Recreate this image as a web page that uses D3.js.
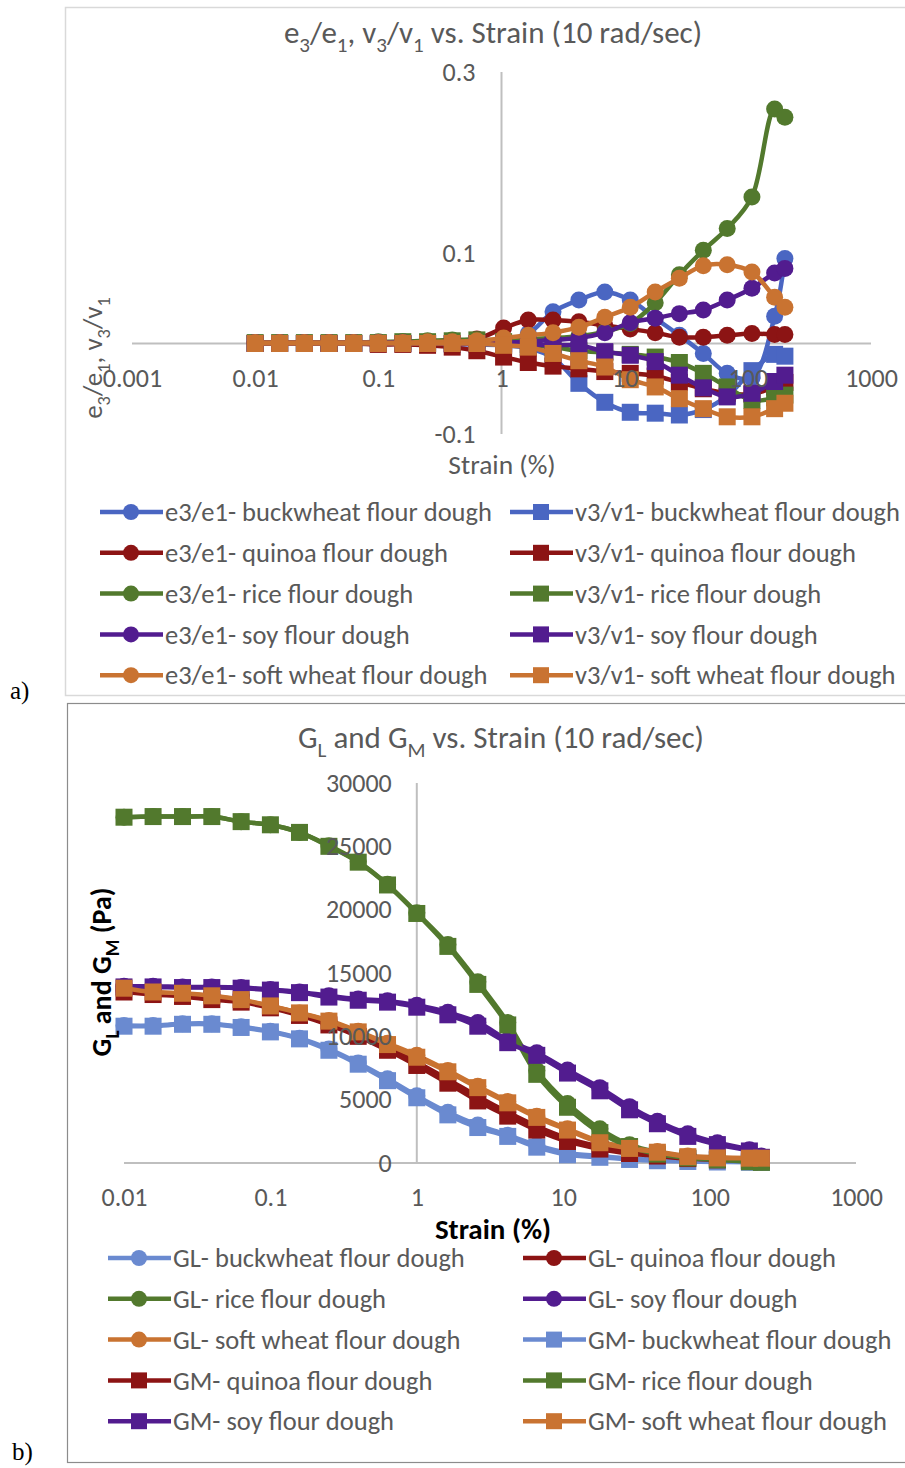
<!DOCTYPE html>
<html>
<head>
<meta charset="UTF-8">
<script src="https://d3js.org/d3.v7.min.js"></script>
<style>
  body { margin: 0; background: #fff; }
  text { font-family: Carlito, Lato, "Open Sans", sans-serif; }
</style>
</head>
<body>
<svg width="905" height="1468"></svg>
<script>
  // ---- data: chart a) ----
  const strainA = [0.01, 0.0158, 0.0251, 0.0398, 0.0631, 0.1, 0.158, 0.251, 0.398, 0.631,
    1.04, 1.65, 2.62, 4.25, 6.9, 11.1, 17.7, 27.8, 43.5, 68, 108, 165, 200];
  const e3Buckwheat = [0.001, 0.001, 0.001, 0.001, 0.001, 0.001, 0.002, 0.002, 0.003, 0.003, 0.004, 0.011, 0.035, 0.048, 0.057, 0.048, 0.028, 0.009, -0.011, -0.033, -0.038, 0.030, 0.094];
  const v3Buckwheat = [0, 0, 0, 0, 0, 0, 0, 0, -0.001, -0.001, -0.002, -0.005, -0.016, -0.044, -0.065, -0.076, -0.077, -0.079, -0.073, -0.058, -0.030, -0.012, -0.014];
  const e3Quinoa = [0.001, 0.001, 0.001, 0.001, 0.001, 0.001, 0.001, 0.002, 0.003, 0.005, 0.017, 0.026, 0.026, 0.024, 0.020, 0.016, 0.012, 0.007, 0.007, 0.009, 0.011, 0.010, 0.010];
  const v3Quinoa = [0, 0, 0, 0, 0, -0.001, -0.001, -0.002, -0.004, -0.008, -0.015, -0.021, -0.025, -0.028, -0.031, -0.033, -0.036, -0.043, -0.050, -0.055, -0.056, -0.048, -0.043];
  const e3Rice = [0.001, 0.001, 0.001, 0.001, 0.001, 0.002, 0.002, 0.003, 0.004, 0.004, 0.004, 0.005, 0.006, 0.008, 0.013, 0.022, 0.045, 0.076, 0.103, 0.127, 0.162, 0.259, 0.250];
  const v3Rice = [0.001, 0.001, 0.001, 0.001, 0.001, 0.001, 0.002, 0.002, 0.003, 0.004, 0.002, -0.002, -0.004, -0.008, -0.010, -0.012, -0.015, -0.021, -0.033, -0.048, -0.063, -0.060, -0.057];
  const e3Soy = [0.001, 0.001, 0.001, 0.001, 0.001, 0.001, 0.001, 0.001, 0.001, 0.001, 0.001, 0.002, 0.004, 0.006, 0.012, 0.023, 0.028, 0.033, 0.037, 0.048, 0.061, 0.078, 0.083];
  const v3Soy = [0, 0, 0, 0, 0, 0, 0, 0, 0, 0, 0, -0.001, -0.002, -0.002, -0.009, -0.013, -0.020, -0.035, -0.049, -0.059, -0.055, -0.042, -0.035];
  const e3SoftWheat = [0.001, 0.001, 0.001, 0.001, 0.001, 0.001, 0.001, 0.002, 0.002, 0.003, 0.006, 0.009, 0.012, 0.018, 0.029, 0.040, 0.057, 0.072, 0.086, 0.087, 0.079, 0.051, 0.040];
  const v3SoftWheat = [0, 0, 0, 0, 0, 0, 0, 0, 0, 0, -0.002, -0.004, -0.011, -0.019, -0.026, -0.040, -0.048, -0.061, -0.072, -0.081, -0.081, -0.072, -0.066];
  const ticksXA = [0.001, 0.01, 0.1, 1, 10, 100, 1000];
  const ticksYA = [-0.1, 0.1, 0.3];

  // ---- data: chart b) ----
  const strainB = [0.01, 0.0158, 0.0251, 0.0398, 0.0631, 0.1, 0.158, 0.251, 0.398, 0.631,
    1.0, 1.63, 2.61, 4.18, 6.6, 10.7, 17.8, 28.4, 44, 71, 113, 187, 226];
  const glBuckwheat = [10850, 10850, 11000, 11000, 10750, 10400, 9850, 9000, 7900, 6650, 5300, 4000, 3000, 2200, 1400, 800, 550, 350, 250, 170, 120, 90, 80];
  const glQuinoa = [13600, 13400, 13250, 13050, 12800, 12350, 11800, 11050, 10200, 9100, 7950, 6600, 5250, 4000, 2900, 1950, 1300, 900, 650, 450, 330, 280, 250];
  const glRice = [27300, 27350, 27350, 27350, 26950, 26700, 26100, 25050, 23800, 22000, 19750, 17250, 14300, 11100, 7300, 4700, 2700, 1450, 850, 500, 300, 150, 100];
  const glSoy = [13950, 13950, 13900, 13900, 13850, 13700, 13500, 13200, 12950, 12800, 12450, 11900, 11100, 9700, 8700, 7350, 5950, 4450, 3300, 2300, 1600, 1050, 550];
  const glSoftWheat = [13750, 13500, 13350, 13200, 12850, 12400, 11850, 11250, 10400, 9450, 8500, 7300, 6050, 4850, 3700, 2700, 1700, 1200, 900, 550, 450, 400, 400];
  const gmBuckwheat = [10800, 10800, 10950, 10950, 10700, 10350, 9800, 8900, 7800, 6500, 5150, 3800, 2800, 2100, 1250, 650, 450, 280, 180, 120, 80, 60, 50];
  const gmQuinoa = [13500, 13300, 13150, 12900, 12700, 12250, 11650, 10900, 10000, 8900, 7700, 6300, 4900, 3700, 2600, 1700, 1100, 750, 550, 350, 250, 200, 200];
  const gmRice = [27300, 27350, 27350, 27350, 26950, 26700, 26100, 25000, 23750, 21950, 19700, 17100, 14100, 10900, 7000, 4400, 2400, 1300, 700, 400, 250, 100, 50];
  const gmSoy = [13900, 13900, 13850, 13850, 13800, 13650, 13450, 13100, 12850, 12700, 12300, 11700, 10800, 9500, 8500, 7100, 5700, 4200, 3100, 2100, 1450, 950, 450];
  const gmSoftWheat = [13800, 13500, 13400, 13200, 12900, 12400, 11850, 11200, 10350, 9350, 8350, 7200, 5950, 4750, 3600, 2600, 1600, 1150, 850, 500, 400, 380, 380];
  const ticksXB = [0.01, 0.1, 1, 10, 100, 1000];
  const ticksYB = [0, 5000, 10000, 15000, 20000, 25000, 30000];

  const flours = ["buckwheat flour dough", "quinoa flour dough", "rice flour dough", "soy flour dough", "soft wheat flour dough"];
  const coloursA = ["#4a66c2", "#8c1414", "#52792d", "#521c8f", "#c97331"];
  const coloursB = ["#6a8ad0", "#8c1414", "#52792d", "#521c8f", "#c97331"];

  const grey = "#595959";
  let svg = d3.select("svg");

  // text with subscripts: parts = [[text, isSub], ...]
  function richText(g, parts, size) {
    let dyNow = 0;
    parts.forEach(p => {
      let t = g.append("tspan").text(p[0]);
      if (p[1]) {
        t.attr("font-size", size * 0.68).attr("dy", size * 0.3 - dyNow);
        dyNow = size * 0.3;
      } else {
        t.attr("dy", -dyNow);
        dyNow = 0;
      }
    });
  }

  function drawSeries(g, sers, x, y, curve) {
    let line = d3.line().x(d => x(d[0])).y(d => y(d[1])).curve(curve);
    sers.forEach(s => {
      let pts = s.strain.map((v, i) => [v, s.values[i]]);
      g.append("path").attr("d", line(pts))
        .attr("fill", "none").attr("stroke", s.colour).attr("stroke-width", 4.5)
        .attr("stroke-linejoin", "round");
      if (s.shape == "circle") {
        g.selectAll(null).data(pts).enter().append("circle")
          .attr("cx", d => x(d[0])).attr("cy", d => y(d[1])).attr("r", 8.5)
          .attr("fill", s.colour);
      } else {
        g.selectAll(null).data(pts).enter().append("rect")
          .attr("x", d => x(d[0]) - 8.5).attr("y", d => y(d[1]) - 8.5)
          .attr("width", 17).attr("height", 17).attr("fill", s.colour);
      }
    });
  }

  function drawLegend(g, sers, cols, rowY, rowH) {
    sers.forEach((s, i) => {
      let cx = cols[i % 2], cy = rowY + Math.floor(i / 2) * rowH;
      g.append("line").attr("x1", cx).attr("x2", cx + 63).attr("y1", cy).attr("y2", cy)
        .attr("stroke", s.colour).attr("stroke-width", 4.5);
      if (s.shape == "circle") {
        g.append("circle").attr("cx", cx + 31).attr("cy", cy).attr("r", 8).attr("fill", s.colour);
      } else {
        g.append("rect").attr("x", cx + 23).attr("y", cy - 8).attr("width", 16).attr("height", 16).attr("fill", s.colour);
      }
      g.append("text").attr("x", cx + 65).attr("y", cy).attr("dy", "0.35em")
        .attr("font-size", 26.5).attr("fill", grey).text(s.name);
    });
  }

  // frames
  svg.append("rect").attr("x", 65.5).attr("y", 7.5).attr("width", 850).attr("height", 688)
    .attr("fill", "none").attr("stroke", "#d9d9d9").attr("stroke-width", 1.5);
  svg.append("rect").attr("x", 67.5).attr("y", 703.5).attr("width", 850).attr("height", 759)
    .attr("fill", "none").attr("stroke", "#8c8c8c").attr("stroke-width", 1.2);
  svg.append("text").attr("x", 10).attr("y", 699).attr("font-size", 25)
    .style("font-family", "'Liberation Serif', serif").text("a)");
  svg.append("text").attr("x", 12).attr("y", 1460).attr("font-size", 25)
    .style("font-family", "'Liberation Serif', serif").text("b)");

  // ================= chart a =================
  let xA = d3.scaleLog().domain([0.001, 1000]).range([132, 871]);
  let yA = d3.scaleLinear().domain([-0.1, 0.3]).range([434, 72]);
  let gA = svg.append("g");

  gA.append("line").attr("x1", xA(0.001)).attr("x2", xA(1000)).attr("y1", yA(0)).attr("y2", yA(0))
    .attr("stroke", "#bfbfbf").attr("stroke-width", 2);
  gA.append("line").attr("x1", xA(1)).attr("x2", xA(1)).attr("y1", yA(-0.1)).attr("y2", yA(0.3))
    .attr("stroke", "#bfbfbf").attr("stroke-width", 2);

  let seriesA = [];
  const e3 = [e3Buckwheat, e3Quinoa, e3Rice, e3Soy, e3SoftWheat];
  const v3 = [v3Buckwheat, v3Quinoa, v3Rice, v3Soy, v3SoftWheat];
  flours.forEach((f, i) => {
    seriesA.push({ name: "e3/e1- " + f, strain: strainA, values: e3[i], colour: coloursA[i], shape: "circle" });
    seriesA.push({ name: "v3/v1- " + f, strain: strainA, values: v3[i], colour: coloursA[i], shape: "square" });
  });
  drawSeries(gA.append("g"), seriesA, xA, yA, d3.curveCatmullRom);

  let axA = gA.append("g").attr("transform", "translate(0," + yA(0) + ")")
    .call(d3.axisBottom(xA).tickValues(ticksXA).tickSize(0).tickPadding(25).tickFormat(d => String(d)));
  let ayA = gA.append("g").attr("transform", "translate(" + xA(1) + ",0)")
    .call(d3.axisLeft(yA).tickValues(ticksYA).tickSize(0).tickPadding(26).tickFormat(d => d.toFixed(1)));
  [axA, ayA].forEach(a => {
    a.select(".domain").remove();
    a.selectAll("text").attr("font-size", 26).attr("fill", grey).style("font-family", null);
  });

  richText(svg.append("text").attr("x", 493).attr("y", 43).attr("text-anchor", "middle")
    .attr("font-size", 31).attr("fill", grey),
    [["e", 0], ["3", 1], ["/e", 0], ["1", 1], [", v", 0], ["3", 1], ["/v", 0], ["1", 1], [" vs. Strain (10 rad/sec)", 0]], 31);
  richText(svg.append("text").attr("transform", "translate(102,358) rotate(-90)").attr("text-anchor", "middle")
    .attr("font-size", 27).attr("fill", grey),
    [["e", 0], ["3", 1], ["/e", 0], ["1", 1], [", v", 0], ["3", 1], ["/v", 0], ["1", 1]], 27);
  svg.append("text").attr("x", 502).attr("y", 474).attr("text-anchor", "middle")
    .attr("font-size", 27.5).attr("fill", grey).text("Strain (%)");

  drawLegend(svg.append("g"), seriesA, [100, 510], 512, 40.8);

  // ================= chart b =================
  let xB = d3.scaleLog().domain([0.01, 1000]).range([124, 856]);
  let yB = d3.scaleLinear().domain([0, 30000]).range([1163, 783]);
  let gB = svg.append("g");

  gB.append("line").attr("x1", xB(0.01)).attr("x2", xB(1000)).attr("y1", yB(0)).attr("y2", yB(0))
    .attr("stroke", "#bfbfbf").attr("stroke-width", 2);
  gB.append("line").attr("x1", xB(1)).attr("x2", xB(1)).attr("y1", yB(0)).attr("y2", yB(30000))
    .attr("stroke", "#bfbfbf").attr("stroke-width", 2);

  let seriesB = [];
  const gl = [glBuckwheat, glQuinoa, glRice, glSoy, glSoftWheat];
  const gm = [gmBuckwheat, gmQuinoa, gmRice, gmSoy, gmSoftWheat];
  flours.forEach((f, i) => {
    seriesB.push({ name: "GL- " + f, strain: strainB, values: gl[i], colour: coloursB[i], shape: "circle" });
  });
  flours.forEach((f, i) => {
    seriesB.push({ name: "GM- " + f, strain: strainB, values: gm[i], colour: coloursB[i], shape: "square" });
  });
  drawSeries(gB.append("g"), seriesB, xB, yB, d3.curveCatmullRom);

  let axB = gB.append("g").attr("transform", "translate(0," + yB(0) + ")")
    .call(d3.axisBottom(xB).tickValues(ticksXB).tickSize(0).tickPadding(25).tickFormat(d => String(d)));
  let ayB = gB.append("g").attr("transform", "translate(" + xB(1) + ",0)")
    .call(d3.axisLeft(yB).tickValues(ticksYB).tickSize(0).tickPadding(25).tickFormat(d => String(d)));
  [axB, ayB].forEach(a => {
    a.select(".domain").remove();
    a.selectAll("text").attr("font-size", 26).attr("fill", grey).style("font-family", null);
  });

  richText(svg.append("text").attr("x", 501).attr("y", 748).attr("text-anchor", "middle")
    .attr("font-size", 31).attr("fill", grey),
    [["G", 0], ["L", 1], [" and G", 0], ["M", 1], [" vs. Strain (10 rad/sec)", 0]], 31);
  richText(svg.append("text").attr("transform", "translate(111,972) rotate(-90)").attr("text-anchor", "middle")
    .attr("font-size", 28).attr("font-weight", "bold").attr("fill", "#000"),
    [["G", 0], ["L", 1], [" and G", 0], ["M", 1], [" (Pa)", 0]], 28);
  svg.append("text").attr("x", 493).attr("y", 1239).attr("text-anchor", "middle")
    .attr("font-size", 29).attr("font-weight", "bold").attr("fill", "#000").text("Strain (%)");

  drawLegend(svg.append("g"), seriesB, [108, 523], 1258, 40.8);
</script>
</body>
</html>
